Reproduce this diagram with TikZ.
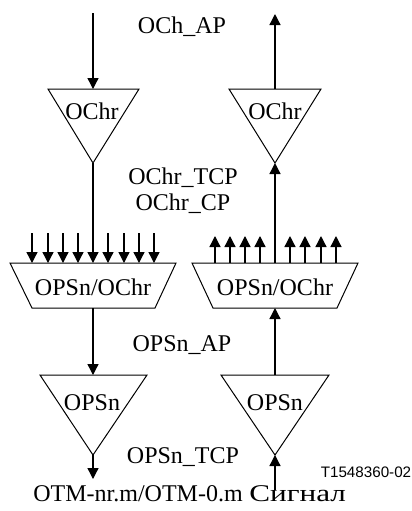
\documentclass[tikz,border=0pt]{standalone}
\usepackage{fontspec}
\setmainfont{Liberation Serif}
\newfontfamily\figfont{Liberation Sans}
\newfontfamily\widefont[FakeStretch=1.3]{Liberation Serif}
\usetikzlibrary{arrows.meta}

\tikzset{
  sig/.style={line width=0.65pt,-{Triangle[length=5.5pt,width=5.5pt]}},
  blk/.style={line width=0.5pt,line join=miter},
  lbl/.style={font=\fontsize{12}{14}\selectfont,inner sep=0pt}
}

\begin{document}
\begin{tikzpicture}[x=0.5pt,y=-0.5pt]
\useasboundingbox (0,0) rectangle (412,511);
% trail termination blocks (triangles)
\draw[blk] (48,89) coordinate (ochrA-l) -- (139,89) -- (93,163) coordinate (ochrA-b) -- cycle;
\draw[blk] (229,89) -- (321,89) -- (275,163) coordinate (ochrB-b) -- cycle;
\draw[blk] (40,375) -- (147,375) -- (93,455) coordinate (opsA-b) -- cycle;
\draw[blk] (221,375) -- (329,375) -- (275,455) coordinate (opsB-b) -- cycle;
\coordinate (ochrA-t) at (93,89);
\coordinate (ochrB-t) at (275,89);
\coordinate (opsA-t) at (93,375);
\coordinate (opsB-t) at (275,375);
% adaptation blocks (trapezia)
\draw[blk] (10,263) -- (176,263) -- (155,308) -- (32,308) -- cycle;
\draw[blk] (192,263) -- (358,263) -- (337,308) -- (213,308) -- cycle;
\coordinate (adA-t) at (93,263);
\coordinate (adA-b) at (93,308);
\coordinate (adB-t) at (275,263);
\coordinate (adB-b) at (275,308);
% block names
\node[lbl] (ochrA) at (92,111) {OChr};
\node[lbl] (ochrB) at (275,111) {OChr};
\node[lbl] (adA) at (93,287) {OPSn/OChr};
\node[lbl] (adB) at (275,287) {OPSn/OChr};
\node[lbl] (opsA) at (92,403) {OPSn};
\node[lbl] (opsB) at (275,403) {OPSn};
% reference points
\node[lbl] (apCh) at (182,27) {OCh\_AP};
\node[lbl] (tcpChr) at (183,178) {OChr\_TCP};
\node[lbl] (cpChr) at (183,204) {OChr\_CP};
\node[lbl] (apPS) at (182,345) {OPSn\_AP};
\node[lbl] (tcpPS) at (183,457) {OPSn\_TCP};
\node[lbl,anchor=west] (otm) at (33,494) {OTM-nr.m/OTM-0.m};
\node[lbl,anchor=west] (sig) at (249,494) {\widefont Сигнал};
\node[font=\figfont\fontsize{7.6}{9}\selectfont,inner sep=0pt] (fig) at (366,472) {T1548360-02};
% sink direction
\coordinate (inA) at (93,13);
\coordinate (outA) at (93,479);
\draw[sig] (inA) -- (ochrA-t);
\draw[sig] (ochrA-b) -- (adA-t);
\draw[sig] (adA-b) -- (opsA-t);
\draw[sig] (opsA-b) -- (outA);
\foreach \x in {32,48,63,78,108,124,139,154}
  \draw[sig] (\x,233) -- (\x,263);
% source direction
\coordinate (inB) at (275,490);
\coordinate (outB) at (275,14);
\draw[sig] (inB) -- (opsB-b);
\draw[sig] (opsB-t) -- (adB-b);
\draw[sig] (adB-t) -- (ochrB-b);
\draw[sig] (ochrB-t) -- (outB);
\foreach \x in {215,230,245,260,290,305,321,336}
  \draw[sig] (\x,263) -- (\x,236);
\end{tikzpicture}
\end{document}
